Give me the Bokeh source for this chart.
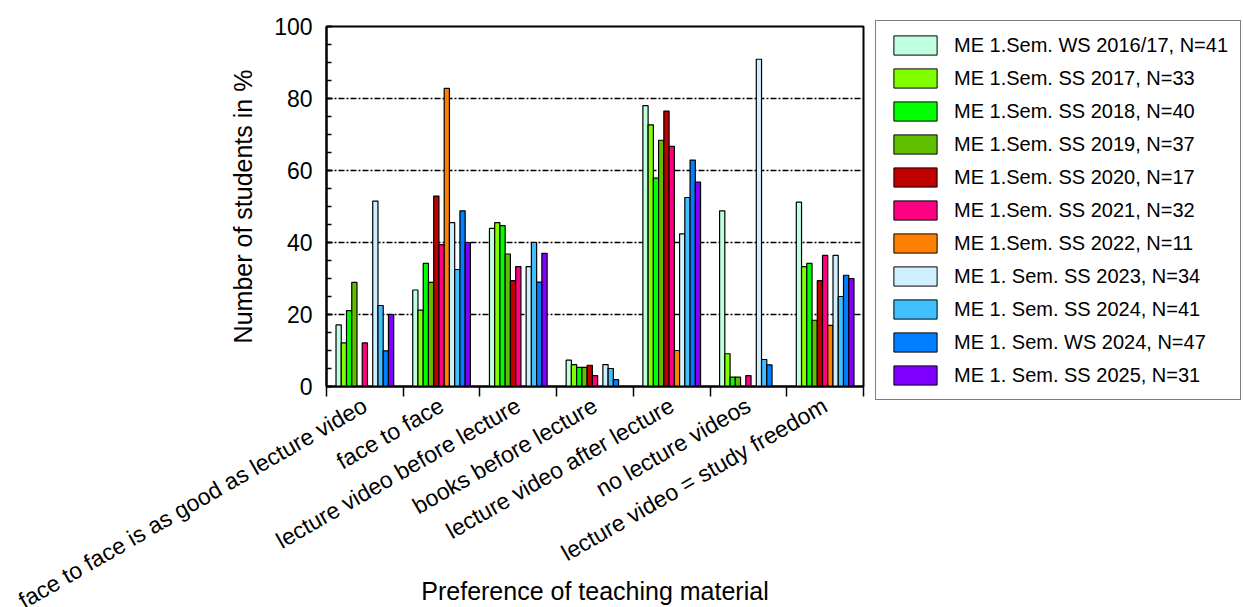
import math

from bokeh.plotting import figure
from bokeh.layouts import row
from bokeh.models import (ColumnDataSource, FixedTicker, SingleIntervalTicker,
                          Legend, LegendItem, Range1d)
from bokeh.embed import file_html
from bokeh.resources import INLINE

# Answer categories (x axis)
categories = [
    "face to face is as good as lecture video",
    "face to face",
    "lecture video before lecture",
    "books before lecture",
    "lecture video after lecture",
    "no lecture videos",
    "lecture video = study freedom",
]

# Survey cohorts (legend)
cohorts = [
    "ME 1.Sem. WS 2016/17, N=41",
    "ME 1.Sem. SS 2017, N=33",
    "ME 1.Sem. SS 2018, N=40",
    "ME 1.Sem. SS 2019, N=37",
    "ME 1.Sem. SS 2020, N=17",
    "ME 1.Sem. SS 2021, N=32",
    "ME 1.Sem. SS 2022, N=11",
    "ME 1. Sem. SS 2023, N=34",
    "ME 1. Sem. SS 2024, N=41",
    "ME 1. Sem. WS 2024, N=47",
    "ME 1. Sem. SS 2025, N=31",
]

colors = [
    "#C0FFE0", "#80FF00", "#00FF00", "#60C000", "#C00000", "#FF0080",
    "#FF8000", "#D0F0FF", "#40C0FF", "#0080FF", "#8000FF",
]

# Share of students in % per category, one list per cohort
ws_2016 = [17.1, 26.8, 43.9, 7.3, 78.0, 48.8, 51.2]
ss_2017 = [12.1, 21.2, 45.5, 6.1, 72.7, 9.1, 33.3]
ss_2018 = [21.1, 34.2, 44.7, 5.3, 57.9, 2.6, 34.2]
ss_2019 = [28.9, 28.9, 36.8, 5.3, 68.4, 2.6, 18.4]
ss_2020 = [0.0, 52.9, 29.4, 5.9, 76.5, 0.0, 29.4]
ss_2021 = [12.1, 39.4, 33.3, 3.0, 66.7, 3.0, 36.4]
ss_2022 = [0.0, 82.8, 0.0, 0.0, 10.0, 0.0, 17.0]
ss_2023 = [51.5, 45.5, 33.3, 6.1, 42.4, 90.9, 36.4]
ss_2024 = [22.5, 32.5, 40.0, 5.0, 52.5, 7.5, 25.0]
ws_2024 = [9.9, 48.8, 29.0, 1.9, 62.9, 6.0, 30.9]
ss_2025 = [20.0, 40.0, 37.0, 0.0, 56.8, 0.0, 30.0]

series = [ws_2016, ss_2017, ss_2018, ss_2019, ss_2020, ss_2021,
          ss_2022, ss_2023, ss_2024, ws_2024, ss_2025]

FONT = "Liberation Sans"
n_cat = len(categories)

p = figure(width=870, height=607,
           x_range=Range1d(0, n_cat), y_range=Range1d(0, 100),
           output_backend="svg", toolbar_location=None,
           min_border_left=326, min_border_right=7,
           min_border_top=26, min_border_bottom=221)
p.background_fill_color = "white"
p.border_fill_color = "white"
p.outline_line_color = "black"
p.outline_line_width = 2

# grouped bars: each category spans one unit, bars fill 75 % of it
n = len(series)
group_w = 0.752
bar_w = group_w / n
start = (1 - group_w) / 2

for j, (vals, col) in enumerate(zip(series, colors)):
    xs = [i + start + (j + 0.5) * bar_w for i in range(n_cat)]
    src = ColumnDataSource(dict(x=xs, top=vals))
    p.vbar(x="x", top="top", width=bar_w, source=src,
           fill_color=col, line_color="black", line_width=1.2)

# x axis: labels at category centres, tick marks on the boundaries
centers = [i + 0.5 for i in range(n_cat)]
xa = p.xaxis[0]
xa.ticker = FixedTicker(ticks=centers, minor_ticks=list(range(n_cat + 1)))
xa.major_label_overrides = {c: name for c, name in zip(centers, categories)}
xa.major_label_orientation = math.pi / 6
xa.major_label_standoff = 7
xa.major_label_text_font = FONT
xa.major_label_text_font_size = "23px"
xa.major_label_text_color = "black"
xa.major_tick_in = 0
xa.major_tick_out = 0
xa.minor_tick_in = 0
xa.minor_tick_out = 10
xa.minor_tick_line_width = 1.5
xa.minor_tick_line_color = "black"
xa.axis_line_width = 2
xa.axis_line_color = "black"
xa.axis_label = "Preference of teaching material"
xa.axis_label_text_font = FONT
xa.axis_label_text_font_size = "25px"
xa.axis_label_text_font_style = "normal"
xa.axis_label_text_color = "black"
xa.axis_label_standoff = -51

ya = p.yaxis[0]
ya.ticker = SingleIntervalTicker(interval=20, num_minor_ticks=4)
ya.major_tick_in = 6
ya.major_tick_out = 0
ya.minor_tick_in = 5
ya.minor_tick_out = 0
ya.major_tick_line_width = 1.5
ya.minor_tick_line_width = 1.5
ya.major_tick_line_color = "black"
ya.minor_tick_line_color = "black"
ya.axis_line_width = 2
ya.axis_line_color = "black"
ya.major_label_standoff = 14
ya.major_label_text_font = FONT
ya.major_label_text_font_size = "23px"
ya.major_label_text_color = "black"
ya.axis_label = "Number of students in %"
ya.axis_label_text_font = FONT
ya.axis_label_text_font_size = "25px"
ya.axis_label_text_font_style = "normal"
ya.axis_label_text_color = "black"
ya.axis_label_standoff = 14

p.xgrid.visible = False
p.ygrid.grid_line_color = "black"
p.ygrid.grid_line_dash = "6 2 2 2"
p.ygrid.grid_line_width = 1.3

# legend panel to the right of the chart (own frame, not aligned)
lp = figure(width=373, height=607, x_range=Range1d(0, 1), y_range=Range1d(0, 1),
            x_axis_type=None, y_axis_type=None,
            output_backend="svg", toolbar_location=None,
            min_border_left=0, min_border_right=0,
            min_border_top=0, min_border_bottom=0)
lp.frame_align = False
lp.outline_line_color = None
lp.background_fill_color = "white"
lp.border_fill_color = "white"

items = []
for col, name in zip(colors, cohorts):
    # swatch renderer; its single bar lies wholly outside the visible ranges
    r = lp.vbar(x=[-5], top=[-5], bottom=-6, width=0.1, fill_color=col,
                line_color="black", line_width=1)
    items.append(LegendItem(label=name, renderers=[r]))

legend = Legend(items=items, location=(5, 207), margin=0,
                glyph_width=54, glyph_height=24, spacing=9, padding=12,
                label_standoff=12, label_text_font=FONT,
                label_text_font_size="20px", label_text_color="black",
                border_line_color="black", border_line_width=1,
                background_fill_alpha=1)
lp.add_layout(legend)

layout = row(p, lp)
open("out.html", "w").write(file_html(layout, INLINE))
